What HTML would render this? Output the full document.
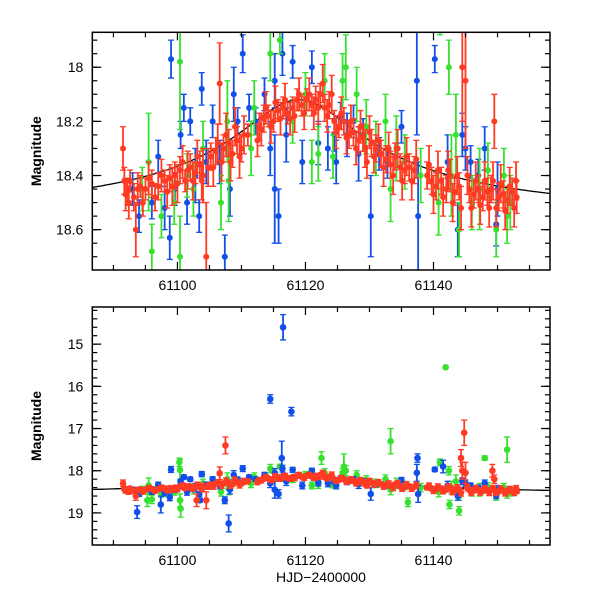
<!DOCTYPE html>
<html><head><meta charset="utf-8"><style>
body{margin:0;background:#fff}
svg{display:block}
text{font-family:"Liberation Sans",sans-serif;fill:#000}
</style></head><body>
<svg id="chart" width="600" height="600" xmlns="http://www.w3.org/2000/svg"></svg>
<script>
const xTicks=[61100,61120,61140];
const topYTicks=[18,18.2,18.4,18.6];
const botYTicks=[15,16,17,18,19];
const red=[[61091.5,18.30,0.08],[61091.7,18.42,0.05],[61092.2,18.46,0.05],[61092.6,18.42,0.04],[61093.2,18.48,0.05],[61093.5,18.60,0.1],[61094.2,18.44,0.04],[61095,18.45,0.04],[61096,18.43,0.05],[61097,18.44,0.05],[61098,18.42,0.04],[61098.8,18.41,0.05],[61099.6,18.40,0.05],[61100.4,18.38,0.05],[61101.2,18.42,0.04],[61102,18.37,0.05],[61102.8,18.39,0.04],[61103.5,18.36,0.05],[61104,18.40,0.1],[61104.5,18.70,0.2],[61105.2,18.33,0.05],[61106,18.31,0.05],[61106.6,18.06,0.15],[61107.2,18.30,0.05],[61108,18.28,0.05],[61108.6,18.32,0.05],[61109.3,18.27,0.05],[61110,18.30,0.05],[61111,18.25,0.04],[61112.8,18.22,0.05],[61113.5,18.19,0.05],[61114.2,18.18,0.04],[61115,18.20,0.04],[61115.7,18.16,0.04],[61116.5,18.15,0.04],[61117.2,18.17,0.04],[61118,18.15,0.04],[61118.7,18.12,0.04],[61119.4,18.14,0.04],[61120.2,18.12,0.04],[61121,18.14,0.04],[61121.6,18.12,0.05],[61122.3,18.10,0.04],[61123,18.15,0.05],[61123.7,18.14,0.05],[61124.5,18.20,0.04],[61125.2,18.22,0.04],[61126,18.20,0.05],[61126.8,18.25,0.05],[61127.5,18.24,0.05],[61128.3,18.27,0.05],[61129,18.26,0.05],[61129.6,18.35,0.06],[61130.3,18.28,0.05],[61131,18.30,0.05],[61131.8,18.32,0.05],[61132.6,18.34,0.05],[61133.3,18.36,0.05],[61134,18.33,0.05],[61134.8,18.37,0.05],[61135.5,18.38,0.05],[61136.2,18.37,0.05],[61137,18.38,0.05],[61139,18.40,0.05],[61139.7,18.42,0.05],[61140.4,18.44,0.05],[61141.2,18.42,0.05],[61142,18.45,0.05],[61142.6,18.40,0.06],[61143.3,18.46,0.05],[61144,18.44,0.05],[61144.5,18.00,0.2],[61145,18.05,0.25],[61145.6,18.45,0.05],[61146.3,18.47,0.05],[61147,18.45,0.05],[61147.7,18.48,0.05],[61148.4,18.46,0.05],[61149,18.45,0.05],[61149.5,18.20,0.1],[61150.2,18.48,0.05],[61150.9,18.47,0.05],[61151.6,18.49,0.05],[61152.3,18.46,0.05],[61153,18.48,0.06]];
const red2=[[61091.9,18.47,0.06],[61092.4,18.50,0.06],[61093.8,18.45,0.06],[61094.6,18.50,0.05],[61095.5,18.41,0.06],[61096.5,18.48,0.05],[61097.5,18.40,0.06],[61098.4,18.46,0.06],[61099.2,18.44,0.07],[61100,18.43,0.07],[61100.8,18.35,0.06],[61101.6,18.38,0.07],[61102.4,18.42,0.07],[61103.1,18.33,0.06],[61103.8,18.42,0.07],[61104.8,18.37,0.07],[61105.6,18.37,0.07],[61106.3,18.28,0.07],[61106.9,18.35,0.07],[61107.6,18.25,0.08],[61108.3,18.35,0.07],[61109,18.22,0.07],[61109.7,18.33,0.08],[61110.4,18.25,0.07],[61112.5,18.27,0.06],[61113.1,18.23,0.06],[61113.8,18.15,0.06],[61114.6,18.22,0.06],[61115.3,18.13,0.06],[61116.1,18.19,0.06],[61116.8,18.12,0.06],[61117.6,18.19,0.06],[61118.3,18.18,0.06],[61119,18.10,0.06],[61119.8,18.17,0.06],[61120.6,18.10,0.06],[61121.3,18.17,0.06],[61122,18.15,0.06],[61122.7,18.06,0.07],[61123.4,18.18,0.06],[61124.1,18.10,0.07],[61124.8,18.24,0.06],[61125.6,18.17,0.06],[61126.4,18.26,0.06],[61127.1,18.20,0.06],[61127.9,18.30,0.06],[61128.6,18.22,0.06],[61129.3,18.30,0.07],[61130,18.24,0.06],[61130.7,18.33,0.06],[61131.4,18.27,0.06],[61132.2,18.37,0.07],[61133,18.30,0.06],[61133.7,18.40,0.07],[61134.4,18.30,0.07],[61135.1,18.42,0.07],[61135.8,18.33,0.07],[61136.6,18.42,0.07],[61137.3,18.34,0.07],[61139.3,18.36,0.07],[61140,18.47,0.07],[61140.7,18.38,0.07],[61141.5,18.48,0.07],[61142.3,18.38,0.07],[61143,18.50,0.07],[61143.7,18.40,0.07],[61144.3,18.52,0.08],[61145.3,18.40,0.07],[61145.9,18.52,0.07],[61146.6,18.42,0.07],[61147.3,18.51,0.07],[61148,18.42,0.07],[61148.7,18.52,0.07],[61149.3,18.42,0.07],[61149.8,18.52,0.07],[61150.5,18.43,0.07],[61151.2,18.53,0.07],[61151.9,18.44,0.07],[61152.6,18.52,0.07],[61152.9,18.42,0.07]];
const blue=[[61093,18.45,0.06],[61094,18.55,0.06],[61096,18.50,0.06],[61097,18.33,0.06],[61098,18.52,0.08],[61098.8,18.63,0.08],[61099,17.97,0.07],[61099.6,18.45,0.06],[61100.5,18.25,0.05],[61101,18.15,0.05],[61101.5,18.50,0.08],[61102,18.20,0.05],[61102.8,18.40,0.1],[61103.4,18.55,0.06],[61103.8,18.08,0.06],[61104.5,18.35,0.08],[61105.5,18.20,0.06],[61106.6,18.35,0.08],[61107.4,18.70,0.08],[61108.2,18.45,0.1],[61108.8,18.10,0.1],[61109.4,18.20,0.05],[61110.2,17.95,0.07],[61111.2,18.15,0.05],[61112.2,18.20,0.05],[61113.6,18.10,0.06],[61114.5,18.30,0.1],[61115.2,18.45,0.2],[61115.2,18.05,0.1],[61115.8,18.55,0.1],[61116.4,17.95,0.08],[61117,18.25,0.1],[61118,17.98,0.06],[61119.5,18.35,0.08],[61121,18.00,0.06],[61122,18.28,0.08],[61123.5,18.30,0.08],[61124.5,18.25,0.06],[61124.8,18.35,0.08],[61125.5,18.18,0.05],[61126.5,18.25,0.08],[61127.5,18.20,0.06],[61128.3,18.32,0.1],[61129,18.25,0.06],[61130.2,18.55,0.15],[61131.5,18.32,0.06],[61132.8,18.35,0.06],[61135,18.22,0.06],[61137.4,18.05,0.2],[61137.6,18.55,0.2],[61140.2,17.97,0.05],[61142.2,18.35,0.1],[61143.8,18.60,0.1],[61144.5,18.25,0.08],[61145,18.30,0.08],[61145.8,18.35,0.06],[61147,18.40,0.06],[61148,18.30,0.08],[61149.8,18.58,0.08],[61150,18.45,0.1]];
const green=[[61094.5,18.45,0.08],[61095.5,18.35,0.18],[61096,18.68,0.1],[61097.5,18.55,0.08],[61099.5,18.50,0.08],[61100.4,17.98,0.25],[61100.4,18.70,0.15],[61101.5,18.40,0.08],[61102.5,18.45,0.1],[61104,18.30,0.1],[61106.8,18.50,0.1],[61107.8,18.20,0.15],[61108,18.42,0.15],[61111.5,18.30,0.1],[61112,18.15,0.1],[61114.5,17.95,0.1],[61116,17.90,0.05],[61118,18.20,0.08],[61120,18.10,0.08],[61121,18.35,0.08],[61122,18.32,0.1],[61123,18.05,0.1],[61124.3,18.33,0.08],[61125.8,18.05,0.1],[61126.3,18.00,0.12],[61128,18.10,0.1],[61129.5,18.22,0.1],[61131,18.30,0.1],[61132.5,18.20,0.1],[61133.3,18.45,0.12],[61134.2,18.30,0.12],[61135.5,18.35,0.1],[61138,18.40,0.1],[61140.8,18.50,0.12],[61141,17.80,0.08],[61142.4,18.00,0.1],[61142.8,18.40,0.15],[61143.5,18.25,0.15],[61144,18.60,0.1],[61146,18.50,0.1],[61147.2,18.45,0.15],[61148.5,18.38,0.1],[61149.8,18.60,0.1],[61151,18.40,0.1],[61151.5,18.55,0.1],[61152,18.50,0.1]];
const blueOut=[[61116.5,14.6,0.3],[61114.5,16.3,0.1],[61117.8,16.6,0.1],[61108,19.25,0.2],[61093.7,18.98,0.15],[61097.4,18.8,0.2],[61103.5,18.7,0.05],[61116.3,17.7,0.4],[61137.5,17.7,0.1],[61141.5,17.9,0.15]];
const greenOut=[[61141.9,15.55,0.02],[61151.5,17.5,0.3],[61133.3,17.3,0.3],[61100.3,17.8,0.1],[61100.5,18.9,0.2],[61095.3,18.7,0.15],[61122.5,17.7,0.15],[61126,17.9,0.3],[61142.5,18.8,0.1],[61144,18.95,0.1],[61148,17.7,0.05],[61136,18.75,0.1]];
const redOut=[[61107.5,17.4,0.2],[61144.8,17.1,0.3],[61144.3,17.7,0.2],[61149.2,18.0,0.15],[61103,18.7,0.15]];
const model={t0:61119,peak:18.12,base:18.58,tE:10};

const svg=document.getElementById('chart');
const NS='http://www.w3.org/2000/svg';
function el(tag,attrs,parent){const e=document.createElementNS(NS,tag);for(const k in attrs)e.setAttribute(k,attrs[k]);(parent||svg).appendChild(e);return e;}
const X0=92.3,X1=550,T0=61086.7,T1=61158.2;
const xs=t=>X0+(t-T0)/(T1-T0)*(X1-X0);
const redAll=red.concat(red2);
const panels=[{name:'top',y0:32.3,y1:270,m0:17.871,m1:18.749,ticks:topYTicks,minor:0.05,r:3,lbl:v=>v===18?'18':v.toFixed(1),sets:[[blue,'#1050e8','blue'],[green,'#38e030','green'],[redAll,'#ff3b24','red']]},
{name:'bottom',y0:307,y1:545,m0:14.12,m1:19.76,ticks:botYTicks,minor:0.2,r:3.3,lbl:v=>String(v),sets:[[green.concat(greenOut),'#38e030','green'],[blue.concat(blueOut),'#1050e8','blue'],[redAll.concat(redOut),'#ff3b24','red']]}];
panels.forEach(p=>{
  const ys=m=>p.y0+(m-p.m0)/(p.m1-p.m0)*(p.y1-p.y0);
  const g=el('g',{});
  
  
  const cid='clip-'+p.name;
  const cp=el('clipPath',{id:cid},g);el('rect',{x:X0,y:p.y0,width:X1-X0,height:p.y1-p.y0},cp);
  const data=el('g',{'clip-path':'url(#'+cid+')'},g);
  let d='';for(let t=T0;t<=T1;t+=0.25){const A=1/Math.sqrt(1+((t-model.t0)/model.tE)**2);const m=model.base-(model.base-model.peak)*A;d+=(d?'L':'M')+xs(t).toFixed(1)+','+ys(m).toFixed(1);}
  const mc=el('path',{d:d,fill:'none',stroke:'#000','stroke-width':1.3},data);
  
  
  p.sets.forEach(([arr,col,nm])=>{
    const sg=el('g',{stroke:col,fill:col},data);
    
    
    arr.forEach(([t,m,e])=>{
      const x=xs(t),y=ys(m),ya=ys(m-e),yb=ys(m+e);
      el('line',{x1:x,x2:x,y1:ya,y2:yb,'stroke-width':1.8},sg);
      el('line',{x1:x-3,x2:x+3,y1:ya,y2:ya,'stroke-width':1.3},sg);
      el('line',{x1:x-3,x2:x+3,y1:yb,y2:yb,'stroke-width':1.3},sg);
      const c=el('circle',{cx:x,cy:y,r:p.r,stroke:'none'},sg);
      
      
    });
  });
  el('rect',{x:X0,y:p.y0,width:X1-X0,height:p.y1-p.y0,fill:'none',stroke:'#000','stroke-width':1.5},g);
  for(let t=61090;t<=T1;t+=5){const x=xs(t);const L=(t%20===0)?8:5;
    el('line',{x1:x,x2:x,y1:p.y1,y2:p.y1-L,stroke:'#000','stroke-width':1.2},g);
    el('line',{x1:x,x2:x,y1:p.y0,y2:p.y0+L,stroke:'#000','stroke-width':1.2},g);}
  xTicks.forEach(t=>{const tx=el('text',{x:xs(t),y:p.y1+20,'text-anchor':'middle','font-size':14},g);tx.textContent=t;
    
    });
  const n=Math.round((p.m1-p.m0)/p.minor)+2;
  for(let i=0;i<n;i++){const m=Math.ceil(p.m0/p.minor-1e-6)*p.minor+i*p.minor;if(m>p.m1)break;const y=ys(m);
    el('line',{x1:X0,x2:X0+5,y1:y,y2:y,stroke:'#000','stroke-width':1.2},g);
    el('line',{x1:X1,x2:X1-5,y1:y,y2:y,stroke:'#000','stroke-width':1.2},g);}
  p.ticks.forEach(m=>{const y=ys(m);
    el('line',{x1:X0,x2:X0+9,y1:y,y2:y,stroke:'#000','stroke-width':1.2},g);
    el('line',{x1:X1,x2:X1-9,y1:y,y2:y,stroke:'#000','stroke-width':1.2},g);
    const tx=el('text',{x:X0-9,y:y+5,'text-anchor':'end','font-size':14},g);tx.textContent=p.lbl(m);
    
    });
  const yt=el('text',{x:0,y:0,'text-anchor':'middle','font-size':14,'font-weight':'bold',transform:'translate(41,'+((p.y0+p.y1)/2)+') rotate(-90)'},g);
  yt.textContent='Magnitude';
  
  
});
const xt=el('text',{x:321,y:582,'text-anchor':'middle','font-size':14});
xt.textContent='HJD−2400000';


</script>
</body></html>
